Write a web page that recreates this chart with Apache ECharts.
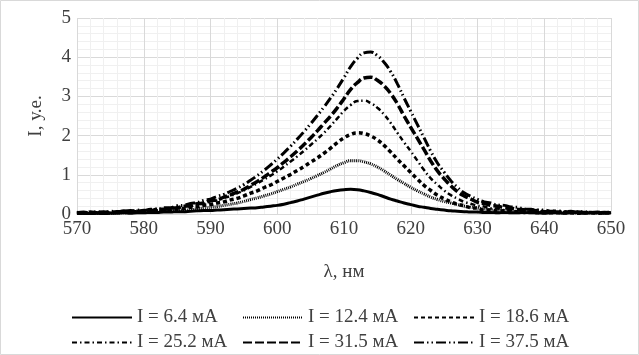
<!DOCTYPE html>
<html><head><meta charset="utf-8">
<script src="https://cdn.jsdelivr.net/npm/echarts@6/dist/echarts.min.js"></script>
<style>html,body{margin:0;padding:0;background:#fff}#c{width:639px;height:355px}</style>
</head><body><div id="c"></div>
<script>
// wavelength, nm (570..650, 1 nm step)
const lambda = [];
for (let w = 570; w <= 650; w++) lambda.push(w);

const seriesNames = ['I = 6.4 мА','I = 12.4 мА','I = 18.6 мА','I = 25.2 мА','I = 31.5 мА','I = 37.5 мА'];

const i64 = [0.01,0.02,0.01,0.02,0.01,0.02,0.02,0.03,0.02,0.03,
 0.03,0.04,0.04,0.05,0.05,0.06,0.06,0.07,0.08,0.09,
 0.09,0.10,0.11,0.12,0.13,0.14,0.15,0.16,0.18,0.20,
 0.22,0.25,0.29,0.33,0.38,0.43,0.48,0.53,0.57,0.60,
 0.62,0.63,0.62,0.59,0.55,0.50,0.44,0.38,0.33,0.28,
 0.24,0.20,0.17,0.14,0.12,0.10,0.08,0.07,0.06,0.05,
 0.05,0.04,0.04,0.03,0.04,0.03,0.03,0.04,0.03,0.03,
 0.02,0.03,0.03,0.02,0.03,0.03,0.02,0.03,0.03,0.02,0.03];

const i124 = [0.01,0.02,0.02,0.02,0.03,0.02,0.03,0.03,0.04,0.04,
 0.04,0.05,0.06,0.07,0.08,0.09,0.10,0.11,0.13,0.15,
 0.17,0.19,0.22,0.25,0.28,0.32,0.37,0.41,0.46,0.51,
 0.57,0.63,0.69,0.76,0.83,0.90,0.98,1.06,1.15,1.24,
 1.31,1.36,1.36,1.33,1.28,1.20,1.10,0.99,0.88,0.78,
 0.68,0.59,0.51,0.43,0.37,0.32,0.28,0.24,0.20,0.17,
 0.15,0.12,0.11,0.09,0.09,0.07,0.07,0.05,0.06,0.04,
 0.05,0.04,0.04,0.03,0.04,0.03,0.03,0.03,0.04,0.03,0.03];

const i186 = [0.02,0.03,0.02,0.04,0.03,0.04,0.04,0.05,0.05,0.06,
 0.06,0.08,0.08,0.10,0.11,0.13,0.14,0.17,0.18,0.22,
 0.24,0.28,0.31,0.36,0.40,0.46,0.53,0.59,0.67,0.74,
 0.83,0.92,1.01,1.11,1.21,1.32,1.43,1.55,1.68,1.82,
 1.94,2.03,2.07,2.05,1.99,1.89,1.75,1.58,1.40,1.23,
 1.06,0.89,0.73,0.60,0.48,0.39,0.31,0.25,0.21,0.16,
 0.15,0.10,0.10,0.07,0.08,0.05,0.06,0.04,0.05,0.03,
 0.04,0.03,0.03,0.03,0.03,0.02,0.03,0.03,0.02,0.03,0.03];

const i252 = [0.03,0.02,0.04,0.03,0.05,0.03,0.06,0.05,0.07,0.06,
 0.09,0.08,0.12,0.11,0.15,0.15,0.19,0.20,0.25,0.26,
 0.32,0.35,0.41,0.46,0.53,0.60,0.69,0.78,0.88,0.98,
 1.09,1.21,1.34,1.47,1.61,1.76,1.91,2.07,2.25,2.44,
 2.63,2.78,2.88,2.89,2.83,2.71,2.54,2.32,2.07,1.83,
 1.60,1.36,1.12,0.91,0.75,0.60,0.48,0.39,0.31,0.26,
 0.21,0.19,0.14,0.14,0.10,0.10,0.07,0.08,0.05,0.07,
 0.04,0.05,0.04,0.04,0.03,0.04,0.03,0.03,0.03,0.03,0.03];

const i315 = [0.04,0.02,0.05,0.03,0.05,0.03,0.06,0.05,0.08,0.07,
 0.09,0.08,0.12,0.12,0.15,0.16,0.20,0.21,0.26,0.28,
 0.34,0.36,0.43,0.49,0.56,0.63,0.73,0.83,0.94,1.06,
 1.18,1.32,1.46,1.61,1.77,1.94,2.12,2.31,2.50,2.71,
 2.94,3.18,3.35,3.47,3.49,3.41,3.27,3.07,2.81,2.50,
 2.21,1.93,1.64,1.35,1.10,0.90,0.72,0.57,0.46,0.38,
 0.30,0.27,0.22,0.20,0.16,0.15,0.12,0.11,0.08,0.09,
 0.06,0.07,0.05,0.06,0.04,0.05,0.04,0.04,0.03,0.04,0.03];

const i375 = [0.03,0.05,0.03,0.06,0.04,0.07,0.05,0.08,0.07,0.10,
 0.09,0.12,0.12,0.16,0.16,0.21,0.22,0.27,0.29,0.35,
 0.38,0.45,0.50,0.58,0.66,0.75,0.86,0.98,1.11,1.25,
 1.40,1.56,1.73,1.91,2.10,2.30,2.51,2.73,2.96,3.21,
 3.48,3.76,3.97,4.11,4.13,4.04,3.87,3.63,3.32,2.96,
 2.62,2.28,1.94,1.60,1.30,1.07,0.85,0.68,0.54,0.45,
 0.37,0.31,0.28,0.23,0.22,0.18,0.17,0.13,0.12,0.10,
 0.10,0.07,0.08,0.06,0.07,0.05,0.06,0.04,0.05,0.04,0.05];

const seriesValues = [i64, i124, i186, i252, i315, i375];

const dashes = ['solid', [1,1], [4,3], [5,3,1.5,3], [9,3], [10,3,1.5,3,1.5,3]];
const widths = [3, 3, 3.5, 2.5, 3.5, 3];

const xTicks = [570, 580, 590, 600, 610, 620, 630, 640, 650];
const yTicks = [0, 1, 2, 3, 4, 5];

const FONT = '"Liberation Serif", "Times New Roman", serif';
const TXT = '#404040';

const legendCols = [71, 242, 413];
const legendRows = [308, 333];
const legends = seriesNames.map((n, k) => ({
  data: [n], left: legendCols[k % 3], top: legendRows[Math.floor(k / 3)], padding: 0,
  itemWidth: 60, itemHeight: 12, itemGap: 0,
  itemStyle: {opacity: 0},
  textStyle: {fontFamily: FONT, fontSize: 19, color: TXT}
}));

const chart = echarts.init(document.getElementById('c'), null, {renderer: 'canvas'});
chart.setOption({
  animation: false,
  backgroundColor: '#fff',
  graphic: [{type: 'rect', shape: {x: 0.5, y: 0.5, width: 638, height: 354},
    style: {fill: 'none', stroke: '#d9d9d9', lineWidth: 1}, silent: true}],
  grid: {left: 77, right: 28, top: 18, bottom: 141},
  xAxis: {
    type: 'value', min: xTicks[0], max: xTicks[xTicks.length - 1], interval: 10,
    name: 'λ, нм', nameLocation: 'middle', nameGap: 49,
    nameTextStyle: {fontFamily: FONT, fontSize: 19, color: TXT},
    axisLine: {show: false}, axisTick: {show: false},
    axisLabel: {fontFamily: FONT, fontSize: 19, color: TXT, margin: 6},
    splitLine: {show: true, lineStyle: {color: '#d9d9d9', width: 1}},
    minorTick: {show: false, splitNumber: 5},
    minorSplitLine: {show: true, lineStyle: {color: '#f0f0f0', width: 1}}
  },
  yAxis: {
    type: 'value', min: yTicks[0], max: yTicks[yTicks.length - 1], interval: 1,
    name: 'I, у.е.', nameLocation: 'middle', nameGap: 31, nameRotate: 90,
    nameTextStyle: {fontFamily: FONT, fontSize: 19, color: TXT},
    axisLine: {show: false}, axisTick: {show: false},
    axisLabel: {fontFamily: FONT, fontSize: 19, color: TXT, margin: 6},
    splitLine: {show: true, lineStyle: {color: '#d9d9d9', width: 1}},
    minorTick: {show: false, splitNumber: 5},
    minorSplitLine: {show: true, lineStyle: {color: '#f0f0f0', width: 1}}
  },
  legend: legends,
  series: seriesNames.map((n, k) => ({
    name: n, type: 'line', showSymbol: false, symbol: 'none', smooth: true,
    data: lambda.map((w, i) => [w, seriesValues[k][i]]),
    lineStyle: {color: '#000', width: widths[k], type: dashes[k]},
    itemStyle: {color: '#000'}
  }))
});
</script></body></html>
